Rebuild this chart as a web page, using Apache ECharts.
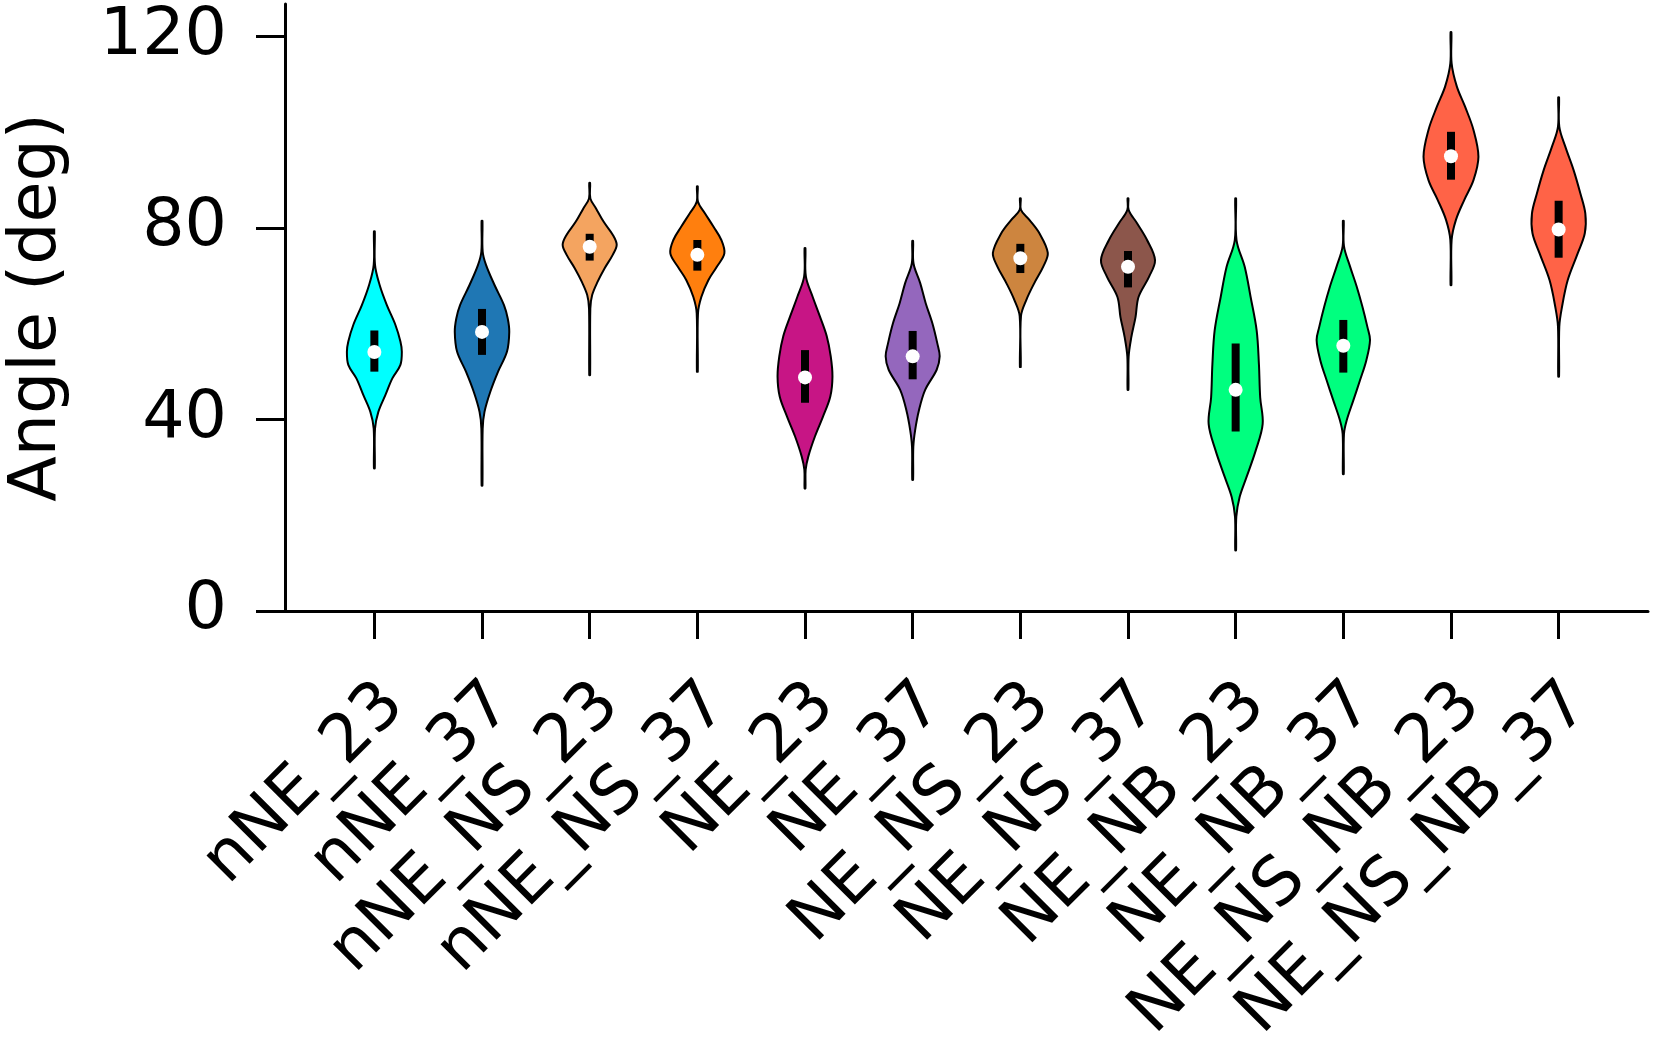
<!DOCTYPE html>
<html>
<head>
<meta charset="utf-8">
<title>Angle violins</title>
<script src="https://cdn.jsdelivr.net/npm/echarts@6/dist/echarts.min.js"></script>
<style>
  html, body { margin: 0; padding: 0; background: #fff; }
  #chart { width: 1653px; height: 1054px; }
</style>
</head>
<body>
<div id="chart"></div>
<script>
// categories and the values
const categories = ['nNE_23', 'nNE_37', 'nNE_NS_23', 'nNE_NS_37', 'NE_23', 'NE_37',
  'NE_NS_23', 'NE_NS_37', 'NE_NB_23', 'NE_NB_37', 'NE_NS_NB_23', 'NE_NS_NB_37']
const yTicks = [0, 40, 80, 120]
const medians = [54.1, 58.3, 76.1, 74.4, 48.8, 53.2, 73.7, 71.9, 46.2, 55.4, 95.0, 79.7]
const q1 = [50.0, 53.5, 73.2, 71.1, 43.5, 48.4, 70.6, 67.6, 37.5, 49.8, 90.1, 73.8]
const q3 = [58.6, 63.1, 78.8, 77.5, 54.5, 58.5, 76.7, 75.2, 55.9, 60.8, 100.1, 85.7]

// violin outlines: [angle, half width in category units], bottom to top
const density0 = [[29.8, 0.004], [38.1, 0.006], [41.6, 0.037], [45.1, 0.102], [48.6, 0.167], [51.4, 0.242], [54.2, 0.255], [56.3, 0.242], [59.8, 0.195], [63.9, 0.116], [68.1, 0.049], [72.3, 0.006], [79.3, 0.004]]
const density1 = [[26.2, 0.004], [38.1, 0.006], [41.6, 0.023], [45.8, 0.077], [50.0, 0.149], [54.2, 0.232], [58.3, 0.253], [61.1, 0.239], [63.9, 0.204], [68.1, 0.116], [72.3, 0.037], [75.1, 0.006], [81.5, 0.004]]
const density2 = [[49.3, 0.004], [63.2, 0.006], [66.0, 0.023], [68.8, 0.074], [71.6, 0.139], [74.4, 0.214], [76.5, 0.251], [78.6, 0.214], [81.3, 0.130], [84.1, 0.059], [86.2, 0.006], [89.4, 0.004]]
const density3 = [[50.0, 0.004], [62.2, 0.006], [65.6, 0.037], [69.1, 0.102], [71.9, 0.181], [74.7, 0.251], [77.5, 0.223], [80.3, 0.149], [83.1, 0.070], [85.5, 0.006], [88.7, 0.004]]
const density4 = [[25.6, 0.004], [29.5, 0.006], [32.3, 0.031], [36.5, 0.093], [40.6, 0.167], [44.8, 0.235], [49.0, 0.255], [53.2, 0.239], [57.4, 0.202], [61.5, 0.139], [65.7, 0.070], [69.9, 0.008], [75.8, 0.004]]
const density5 = [[27.4, 0.004], [34.3, 0.006], [37.8, 0.023], [42.0, 0.059], [46.2, 0.116], [50.4, 0.223], [53.2, 0.251], [55.9, 0.229], [60.1, 0.183], [64.3, 0.121], [68.5, 0.070], [72.6, 0.008], [77.3, 0.004]]
const density6 = [[51.0, 0.004], [61.6, 0.006], [65.0, 0.056], [68.5, 0.130], [72.0, 0.214], [74.8, 0.255], [78.9, 0.177], [81.7, 0.084], [83.8, 0.006], [86.2, 0.004]]
const density7 = [[46.2, 0.004], [53.1, 0.006], [57.2, 0.031], [61.4, 0.070], [65.6, 0.098], [69.8, 0.195], [73.3, 0.251], [77.5, 0.177], [81.0, 0.084], [83.8, 0.006], [86.2, 0.004]]
const density8 = [[12.7, 0.004], [19.7, 0.006], [23.8, 0.037], [27.9, 0.100], [33.5, 0.186], [39.1, 0.251], [44.6, 0.228], [51.6, 0.216], [58.6, 0.195], [65.6, 0.139], [71.9, 0.084], [77.5, 0.008], [86.2, 0.004]]
const density9 = [[28.6, 0.004], [37.0, 0.006], [39.8, 0.031], [44.0, 0.093], [48.2, 0.155], [52.4, 0.214], [56.6, 0.248], [59.4, 0.223], [63.6, 0.177], [67.8, 0.124], [72.0, 0.062], [76.2, 0.006], [81.5, 0.004]]
const density10 = [[68.1, 0.004], [77.5, 0.006], [81.7, 0.046], [85.9, 0.124], [90.0, 0.209], [94.9, 0.255], [100.5, 0.209], [105.4, 0.130], [109.6, 0.054], [114.4, 0.006], [120.9, 0.004]]
const density11 = [[49.0, 0.004], [59.4, 0.006], [63.5, 0.031], [69.1, 0.084], [74.7, 0.177], [78.9, 0.243], [83.0, 0.248], [87.2, 0.202], [92.1, 0.139], [97.0, 0.062], [101.2, 0.006], [107.3, 0.004]]
const densities = [density0, density1, density2, density3, density4, density5,
  density6, density7, density8, density9, density10, density11]

const colors = ['#00FFFF', '#1F77B4', '#F4A460', '#FF7F0E', '#C71585', '#9467BD',
  '#CD853F', '#8C564B', '#00FF7F', '#00FF7F', '#FF6347', '#FF6347']

const font = 'DejaVu Sans'
const fontSize = 66.7
const chart = echarts.init(document.getElementById('chart'))

chart.setOption({
  backgroundColor: '#fff',
  animation: false,
  grid: {
    left: 285,
    right: 5,
    top: 4,
    bottom: 443,
    containLabel: false,
    outerBoundsMode: 'none'
  },
  xAxis: {
    type: 'value',
    min: -0.83,
    max: 11.83,
    splitLine: { show: false },
    axisLine: { show: true, onZero: false, lineStyle: { color: '#000', width: 3 } },
    axisTick: {
      show: true,
      customValues: categories.map((c, i) => i),
      length: 28,
      lineStyle: { color: '#000', width: 3 }
    },
    axisLabel: {
      show: true,
      customValues: categories.map((c, i) => i),
      formatter: v => categories[Math.round(v)],
      rotate: 45,
      margin: 64,
      verticalAlign: 'top',
      lineHeight: 56,
      color: '#000',
      fontSize: fontSize,
      fontFamily: font
    }
  },
  yAxis: {
    type: 'value',
    min: 0,
    max: 126.8,
    name: 'Angle (deg)',
    nameLocation: 'middle',
    nameGap: 214,
    nameTextStyle: { color: '#000', fontSize: fontSize, fontFamily: font },
    splitLine: { show: false },
    axisLine: { show: true, onZero: false, lineStyle: { color: '#000', width: 3 } },
    axisTick: {
      show: true,
      customValues: yTicks,
      length: 29,
      lineStyle: { color: '#000', width: 3 }
    },
    axisLabel: {
      show: true,
      customValues: yTicks,
      margin: 58,
      color: '#000',
      fontSize: fontSize,
      fontFamily: font
    }
  },
  series: [{
    type: 'custom',
    clip: false,
    data: categories.map((c, i) => [i, medians[i]]),
    renderItem (params, api) {
      const i = api.value(0)
      const prof = densities[i]
      const right = prof.map(p => api.coord([i + p[1], p[0]]))
      const left = prof.slice().reverse().map(p => api.coord([i - p[1], p[0]]))
      const top = api.coord([i, q3[i]])
      const bot = api.coord([i, q1[i]])
      const med = api.coord([i, medians[i]])
      return {
        type: 'group',
        children: [{
          type: 'polygon',
          shape: { points: right.concat(left), smooth: 0.35 },
          style: { fill: colors[i], stroke: '#000', lineWidth: 2 }
        }, {
          type: 'rect',
          shape: { x: top[0] - 4, y: top[1], width: 8, height: bot[1] - top[1] },
          style: { fill: '#000' }
        }, {
          type: 'circle',
          shape: { cx: med[0], cy: med[1], r: 7 },
          style: { fill: '#fff' }
        }]
      }
    }
  }]
})
</script>
</body>
</html>
